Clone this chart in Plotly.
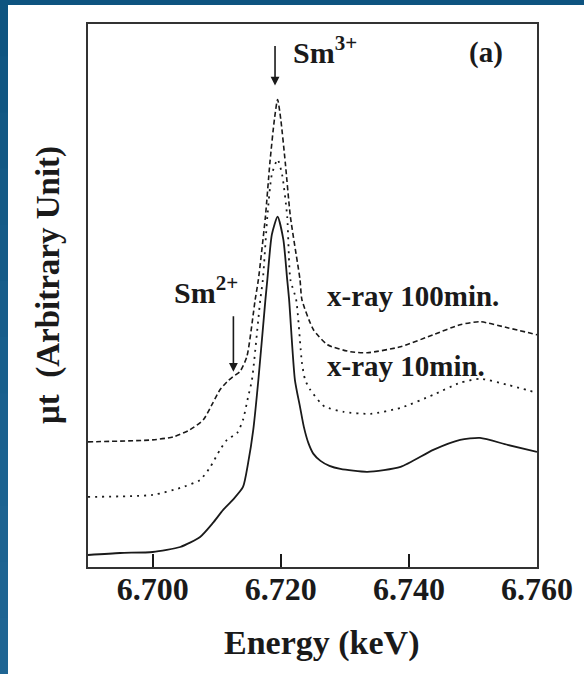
import plotly.graph_objects as go

# ---------------- data ----------------
energy_solid = [6.6899, 6.6949, 6.7000, 6.7043, 6.7074, 6.7094, 6.7110, 6.7125, 6.7141,
                6.7149, 6.7157, 6.7165, 6.7176, 6.7179, 6.7186, 6.7195, 6.7204, 6.7210,
                6.7213, 6.7222, 6.7230, 6.7236, 6.7243, 6.7251, 6.7262, 6.7276, 6.7293,
                6.7335, 6.7387, 6.7438, 6.7480, 6.7511, 6.7554, 6.7600]
mu_solid = [0.12, 0.14, 0.15, 0.20, 0.30, 0.44, 0.57, 0.67, 0.80,
            1.04, 1.37, 1.87, 2.67, 2.87, 3.32, 3.50, 3.27, 2.87,
            2.67, 1.87, 1.60, 1.40, 1.24, 1.13, 1.06, 1.01, 0.98,
            0.95, 1.00, 1.17, 1.27, 1.29, 1.22, 1.15]

energy_10min = [6.6899, 6.7000, 6.7043, 6.7074, 6.7090, 6.7105, 6.7116, 6.7132, 6.7141,
                6.7149, 6.7155, 6.7168, 6.7172, 6.7179, 6.7186, 6.7195, 6.7202, 6.7210,
                6.7215, 6.7224, 6.7233, 6.7238, 6.7246, 6.7262, 6.7269, 6.7298, 6.7340,
                6.7387, 6.7438, 6.7480, 6.7511, 6.7554, 6.7600]
mu_10min = [0.70, 0.72, 0.79, 0.87, 1.00, 1.17, 1.27, 1.34, 1.47,
            1.70, 1.87, 2.67, 2.87, 3.50, 3.92, 4.07, 3.92, 3.50,
            2.87, 2.67, 2.04, 1.87, 1.77, 1.64, 1.60, 1.55, 1.53,
            1.59, 1.72, 1.84, 1.88, 1.82, 1.74]

energy_100min = [6.6899, 6.7000, 6.7032, 6.7058, 6.7079, 6.7094, 6.7105, 6.7116, 6.7125,
                 6.7136, 6.7147, 6.7160, 6.7165, 6.7176, 6.7183, 6.7190, 6.7195, 6.7200,
                 6.7207, 6.7215, 6.7230, 6.7233, 6.7251, 6.7273, 6.7309, 6.7335, 6.7387,
                 6.7438, 6.7480, 6.7511, 6.7554, 6.7600]
mu_100min = [1.25, 1.27, 1.30, 1.37, 1.47, 1.64, 1.77, 1.85, 1.90,
             1.95, 2.10, 2.67, 2.87, 3.50, 4.04, 4.47, 4.67, 4.47,
             4.04, 3.50, 2.87, 2.67, 2.37, 2.22, 2.15, 2.14, 2.20,
             2.32, 2.42, 2.45, 2.39, 2.32]

x_tickvals = [6.700, 6.720, 6.740, 6.760]
x_ticktext = ["6.700", "6.720", "6.740", "6.760"]
x_range = [6.6899, 6.7600]
y_range = [0.0, 5.424]

series_names = ["as prepared", "x-ray 10min.", "x-ray 100min."]

# ---------------- layout helpers ----------------
W, H = 584, 674
L, R, T, B = 88, 47, 24, 107
PW, PH = W - L - R, H - T - B


def px_x(px):
    return (px - L) / PW


def px_y(py):
    return (H - B - py) / PH


FONT = "Liberation Serif, Times New Roman, serif"
INK = "#1a1a1a"

fig = go.Figure()
fig.add_trace(go.Scatter(x=energy_solid, y=mu_solid, mode="lines", name=series_names[0],
                         line=dict(color=INK, width=1.8, shape="spline", smoothing=0.6)))
fig.add_trace(go.Scatter(x=energy_10min, y=mu_10min, mode="lines", name=series_names[1],
                         line=dict(color=INK, width=1.8, dash="2px,5px", shape="spline", smoothing=0.6)))
fig.add_trace(go.Scatter(x=energy_100min, y=mu_100min, mode="lines", name=series_names[2],
                         line=dict(color=INK, width=1.6, dash="5px,3px", shape="spline", smoothing=0.6)))

# ---------------- decorations: blue frame on the page edges ----------------
shapes = []
shapes.append(dict(type="rect", xref="paper", yref="paper", layer="above",
                   x0=px_x(0), x1=px_x(W), y0=px_y(5), y1=px_y(0),
                   fillcolor="#0e5480", line=dict(width=0)))
band_colors = ["#0e5480", "#105682", "#125884", "#145a86", "#155b88", "#175d8a",
               "#185f8c", "#1a608e", "#1b6290", "#1d6391", "#1e6492", "#1f6593"]
nb = len(band_colors)
for i, c in enumerate(band_colors):
    shapes.append(dict(type="rect", xref="paper", yref="paper", layer="above",
                       x0=px_x(0), x1=px_x(8), y0=px_y(H * (i + 1) / nb + 1), y1=px_y(H * i / nb),
                       fillcolor=c, line=dict(width=0)))

afont = dict(family=FONT, size=30, color=INK, weight="bold")
annotations = [
    # y-axis title
    dict(text="μt\u00a0\u00a0(Arbitrary Unit)", xref="paper", yref="paper",
         x=px_x(48), y=px_y(285), textangle=-90, showarrow=False,
         xanchor="center", yanchor="middle",
         font=dict(family=FONT, size=33, color=INK, weight="bold")),
    # x-axis title
    dict(text="Energy (keV)", xref="paper", yref="paper", x=px_x(321), y=px_y(643),
         showarrow=False, xanchor="center", yanchor="middle",
         font=dict(family=FONT, size=34, color=INK, weight="bold")),
    # panel label
    dict(text="(a)", xref="paper", yref="paper", x=px_x(486), y=px_y(53),
         showarrow=False, xanchor="center", yanchor="middle",
         font=dict(family=FONT, size=29, color=INK, weight="bold")),
    # Sm3+ label & arrow
    dict(text="Sm<sup>3+</sup>", xref="paper", yref="paper", x=px_x(291), y=px_y(50),
         showarrow=False, xanchor="left", yanchor="middle", font=afont),
    dict(text="", x=6.7191, y=(H - B - 86) / 100, xref="x", yref="y",
         showarrow=True, ax=0, ay=-41, arrowhead=2, arrowsize=1.1, arrowwidth=1.6,
         arrowcolor=INK, standoff=0),
    # Sm2+ label & arrow
    dict(text="Sm<sup>2+</sup>", xref="paper", yref="paper", x=px_x(172), y=px_y(290),
         showarrow=False, xanchor="left", yanchor="middle", font=afont),
    dict(text="", x=6.7126, y=(H - B - 372) / 100, xref="x", yref="y",
         showarrow=True, ax=0, ay=-57, arrowhead=2, arrowsize=1.1, arrowwidth=1.6,
         arrowcolor=INK, standoff=0),
    # series labels
    dict(text=series_names[2], xref="paper", yref="paper",
         x=px_x(325), y=px_y(296), showarrow=False, xanchor="left", yanchor="middle",
         font=dict(family=FONT, size=29, color=INK, weight="bold")),
    dict(text=series_names[1], xref="paper", yref="paper",
         x=px_x(325), y=px_y(366), showarrow=False, xanchor="left", yanchor="middle",
         font=dict(family=FONT, size=29, color=INK, weight="bold")),
]

fig.update_layout(
    width=W, height=H,
    margin=dict(l=L, r=R, t=T, b=B, pad=0),
    paper_bgcolor="white", plot_bgcolor="white",
    showlegend=False,
    shapes=shapes,
    annotations=annotations,
    xaxis=dict(range=x_range, tickvals=x_tickvals, ticktext=x_ticktext,
               ticks="inside", ticklen=13, tickwidth=1.5, tickcolor=INK,
               ticklabelstandoff=-7,
               showline=True, linecolor="#333333", linewidth=2, mirror=True,
               showgrid=False, zeroline=False,
               tickfont=dict(family=FONT, size=32, color=INK, weight="bold")),
    yaxis=dict(range=y_range, showticklabels=False, ticks="",
               showline=True, linecolor="#333333", linewidth=2, mirror=True,
               showgrid=False, zeroline=False),
)

fig.write_html("out.html", config={"displayModeBar": False})
